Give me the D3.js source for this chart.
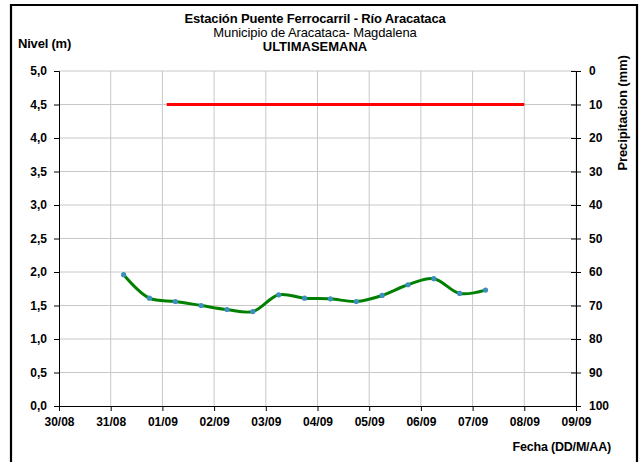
<!DOCTYPE html>
<html>
<head>
<meta charset="utf-8">
<script src="https://cdn.jsdelivr.net/npm/d3@7"></script>
<style>
  html, body { margin: 0; padding: 0; background: #fff; }
  svg { display: block; font-family: "Liberation Sans", Arial, sans-serif; }
</style>
</head>
<body>
<svg id="chart" width="641" height="462"></svg>
<script>
// ---- Data ----
const levelTimes = ["31/08 06:00","31/08 18:00","01/09 06:00","01/09 18:00","02/09 06:00","02/09 18:00",
  "03/09 06:00","03/09 18:00","04/09 06:00","04/09 18:00","05/09 06:00","05/09 18:00",
  "06/09 06:00","06/09 18:00","07/09 06:00"];
const levelValues = [1.96, 1.61, 1.56, 1.50, 1.44, 1.41, 1.66, 1.61, 1.60, 1.56, 1.65, 1.81, 1.90, 1.68, 1.73];
const rainTimes = ["01/09 02:00", "08/09 00:00"];
const rainValues = [10, 10];
const xTickLabels = ["30/08","31/08","01/09","02/09","03/09","04/09","05/09","06/09","07/09","08/09","09/09"];
const levelTicks = [0,0.5,1,1.5,2,2.5,3,3.5,4,4.5,5];
const rainTicks = [0,10,20,30,40,50,60,70,80,90,100];

const YEAR = 2000;
function parseT(s) {
  const [dm, hm] = s.split(" ");
  const [d, m] = dm.split("/").map(Number);
  const [h, mi] = (hm || "00:00").split(":").map(Number);
  return new Date(YEAR, m - 1, d, h, mi);
}

const svg = d3.select("#chart");
const W = 641, H = 462;
const plot = { left: 59, right: 576, top: 71, bottom: 406 };

// frame
svg.append("rect").attr("x", 0).attr("y", 0).attr("width", W).attr("height", H).attr("fill", "#fff");
svg.append("path")
  .attr("d", `M11,${H+5} L11,5 L637,5 L637,${H+5}`)
  .attr("fill", "none").attr("stroke", "#000").attr("stroke-width", 2.2);

const x = d3.scaleTime()
  .domain([parseT(xTickLabels[0]), parseT(xTickLabels[xTickLabels.length - 1])])
  .range([plot.left, plot.right]);
const yL = d3.scaleLinear().domain([0, 5]).range([plot.bottom, plot.top]);
const yR = d3.scaleLinear().domain([0, 100]).range([plot.top, plot.bottom]);

// gridlines
const g = svg.append("g");
g.selectAll(".hg").data(levelTicks.filter(v => v > 0)).join("line")
  .attr("x1", plot.left).attr("x2", plot.right)
  .attr("y1", d => yL(d)).attr("y2", d => yL(d))
  .attr("stroke", "#c8c8c8").attr("stroke-width", 1);
g.selectAll(".vg").data(xTickLabels.slice(1)).join("line")
  .attr("x1", d => x(parseT(d))).attr("x2", d => x(parseT(d)))
  .attr("y1", plot.top).attr("y2", plot.bottom)
  .attr("stroke", "#c8c8c8").attr("stroke-width", 1);

// axes
const fmtComma = d => d3.format(".1f")(d).replace(".", ",");
const axL = d3.axisLeft(yL).tickValues(levelTicks).tickFormat(fmtComma).tickSize(5).tickPadding(7);
const axR = d3.axisRight(yR).tickValues(rainTicks).tickFormat(d3.format("d")).tickSize(5).tickPadding(8);
const axB = d3.axisBottom(x).tickValues(xTickLabels.map(parseT)).tickFormat(d3.timeFormat("%d/%m")).tickSize(5).tickPadding(6);

function styleAxis(sel) {
  sel.select(".domain").attr("stroke", "#000").attr("stroke-width", 1);
  sel.selectAll(".tick line").attr("stroke", "#000");
  sel.selectAll("text").attr("font-size", 12).attr("font-weight", "bold").attr("fill", "#000")
    .attr("font-family", "Liberation Sans, Arial, sans-serif");
}
svg.append("g").attr("transform", `translate(${plot.left},0)`).call(axL).call(styleAxis);
const gr = svg.append("g").attr("transform", `translate(${plot.right},0)`).call(axR).call(styleAxis);
gr.selectAll(".tick line").attr("x1", -5);
svg.append("g").attr("transform", `translate(0,${plot.bottom})`).call(axB).call(styleAxis);

// rain (red) series
const rain = rainTimes.map((t, i) => ({ t: parseT(t), v: rainValues[i] }));
svg.append("path").datum(rain)
  .attr("d", d3.line().x(d => x(d.t)).y(d => yR(d.v)))
  .attr("fill", "none").attr("stroke", "#ff0000").attr("stroke-width", 3);

// level series
const lvl = levelTimes.map((t, i) => ({ t: parseT(t), v: levelValues[i] }));
svg.append("path").datum(lvl)
  .attr("d", d3.line().x(d => x(d.t)).y(d => yL(d.v)).curve(d3.curveCatmullRom.alpha(0.5)))
  .attr("fill", "none").attr("stroke", "#008000").attr("stroke-width", 3);
svg.selectAll(".pt").data(lvl).join("circle")
  .attr("cx", d => x(d.t)).attr("cy", d => yL(d.v)).attr("r", 2.6)
  .attr("fill", "#3d8fbf");

// titles
const tx = 315;
svg.append("text").attr("x", tx).attr("y", 23).attr("text-anchor", "middle")
  .attr("font-size", 13).attr("font-weight", "bold").attr("letter-spacing", -0.15)
  .text("Estación Puente Ferrocarril - Río Aracataca");
svg.append("text").attr("x", tx).attr("y", 37).attr("text-anchor", "middle")
  .attr("font-size", 13).attr("letter-spacing", -0.1)
  .text("Municipio de Aracataca- Magdalena");
svg.append("text").attr("x", tx).attr("y", 51).attr("text-anchor", "middle")
  .attr("font-size", 13).attr("font-weight", "bold")
  .text("ULTIMASEMANA");
svg.append("text").attr("x", 18).attr("y", 48)
  .attr("font-size", 13).attr("font-weight", "bold").attr("letter-spacing", -0.2)
  .text("Nivel (m)");
svg.append("text").attr("x", 611).attr("y", 451).attr("text-anchor", "end")
  .attr("font-size", 12.5).attr("font-weight", "bold").attr("letter-spacing", -0.2)
  .text("Fecha (DD/M/AA)");
svg.append("text").attr("transform", "translate(627,113) rotate(-90)").attr("text-anchor", "middle")
  .attr("font-size", 13).attr("font-weight", "bold").attr("letter-spacing", -0.1)
  .text("Precipitacion (mm)");
</script>
</body>
</html>
